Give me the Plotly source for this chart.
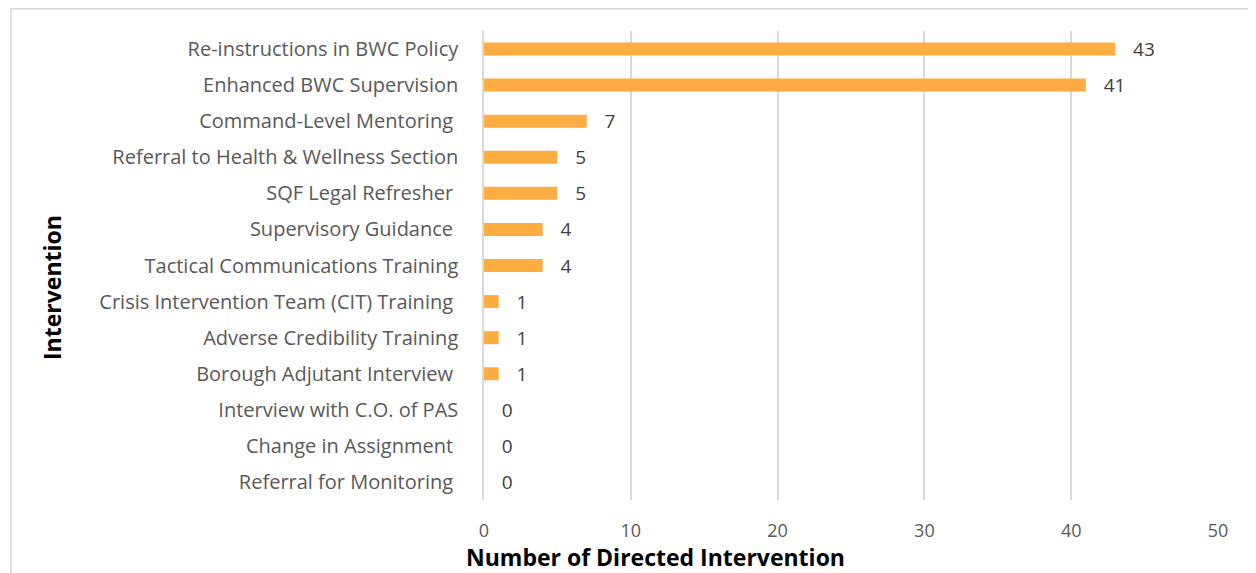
import plotly.graph_objects as go

categories = [
    "Re-instructions in BWC Policy",
    "Enhanced BWC Supervision",
    "Command-Level Mentoring\u00a0",
    "Referral to Health & Wellness Section",
    "SQF Legal Refresher\u00a0",
    "Supervisory Guidance\u00a0",
    "Tactical Communications Training",
    "Crisis Intervention Team (CIT) Training\u00a0",
    "Adverse Credibility Training",
    "Borough Adjutant Interview\u00a0",
    "Interview with C.O. of PAS",
    "Change in Assignment\u00a0",
    "Referral for Monitoring\u00a0",
]
values = [43, 41, 7, 5, 5, 4, 4, 1, 1, 1, 0, 0, 0]
x_ticks = [0, 10, 20, 30, 40, 50]
x_title = "Number of Directed Intervention"
y_title = "Intervention"

W, H = 1256, 573
OFF = 8  # page body margin
ml, mr, mt, mb = 484 - OFF, 38 + OFF, 31 - OFF, 73 + OFF
pw, ph = W - ml - mr, H - mt - mb


def px_x(sx):  # screenshot x -> paper x
    return (sx - OFF - ml) / pw


def px_y(sy):  # screenshot y -> paper y
    return (H - mb - (sy - OFF)) / ph


fig = go.Figure(go.Bar(
    y=categories, x=values, orientation="h",
    marker=dict(color="#FFAD42", line=dict(width=0)),
    width=0.36,
    text=values, texttemplate="\u00a0\u00a0\u00a0%{x}", textposition="outside",
    constraintext="none",
    textfont=dict(family="Open Sans", size=19, color="#404040"),
    cliponaxis=False,
))

fig.update_layout(
    width=W, height=H,
    margin=dict(l=ml, r=mr, t=mt, b=mb),
    paper_bgcolor="white", plot_bgcolor="white",
    font=dict(family="Open Sans", color="#595959"),
    showlegend=False,
    xaxis=dict(
        range=[0, 50], tickvals=x_ticks, showgrid=True, gridcolor="#D9D9D9", gridwidth=1.5,
        zeroline=False, showline=False, ticks="", ticklabelstandoff=18,
        tickfont=dict(size=18, color="#595959"),
    ),
    yaxis=dict(
        autorange="reversed", showgrid=False, zeroline=False,
        showline=True, linecolor="#D9D9D9", linewidth=1.5,
        ticks="", ticklabelstandoff=20,
        tickfont=dict(size=20, color="#595959"),
    ),
    annotations=[
        dict(text="<b>%s</b>" % x_title, xref="paper", yref="paper",
             x=px_x(655), y=px_y(557), xanchor="center", yanchor="middle",
             showarrow=False, font=dict(size=23, color="#000000")),
        dict(text="<b>%s</b>" % y_title, xref="paper", yref="paper",
             x=px_x(52), y=px_y(288), xanchor="center", yanchor="middle", textangle=-90,
             showarrow=False, font=dict(size=23, color="#000000")),
    ],
    shapes=[dict(
        type="rect", xref="paper", yref="paper",
        x0=px_x(11), x1=(W + 20 - ml) / pw,
        y0=-(mb + 20) / ph, y1=(H - mb - 0.75) / ph,
        line=dict(color="#D9D9D9", width=1.5), fillcolor="rgba(0,0,0,0)", layer="below",
    )],
)

fig.write_html("out.html")
